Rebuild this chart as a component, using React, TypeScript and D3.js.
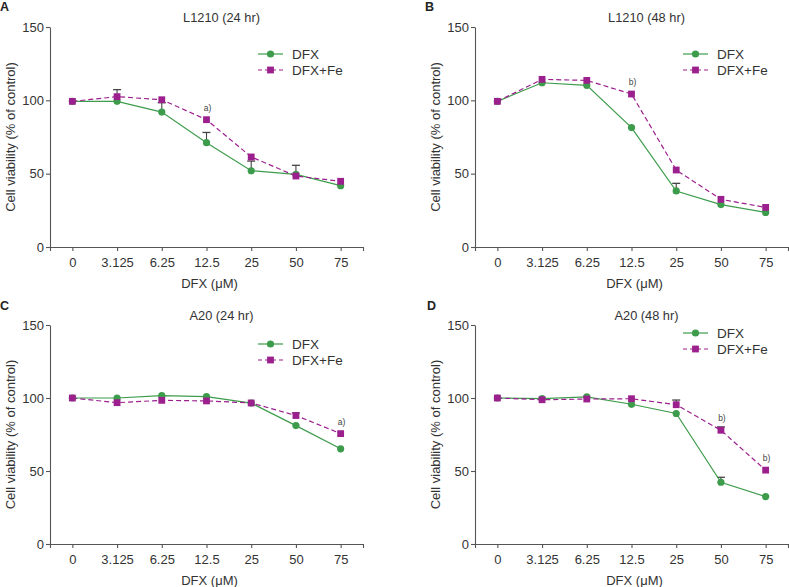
import React, { useEffect, useRef } from "react";
import * as d3 from "d3";

const categories = ["0", "3.125", "6.25", "12.5", "25", "50", "75"];
const yTicks = [0, 50, 100, 150];

const panelLetters = ["A", "B", "C", "D"];
const panelTitles = ["L1210 (24 hr)", "L1210 (48 hr)", "A20 (24 hr)", "A20 (48 hr)"];

const dfxA = [99.3, 99.3, 92, 71.1, 52, 49.5, 41.8];
const feA = [99.3, 102.5, 100.4, 86.8, 61.4, 48.4, 44.8];
const dfxErrA = [0, 0, 6.4, 7, 6.6, 6.2, 0];
const feErrA = [0, 4.8, 0, 0, 0, 0, 0];

const dfxB = [99.3, 112, 110.2, 81.4, 38.2, 28.9, 23.6];
const feB = [99.3, 114.3, 113.6, 104.3, 52.5, 32.5, 27];
const dfxErrB = [0, 0, 0, 0, 5.2, 0, 0];
const feErrB = [0, 0, 0, 0, 0, 0, 0];

const dfxC = [100, 100, 101.6, 101, 96.5, 81.1, 65.2];
const feC = [100, 96.8, 98.4, 98, 96.6, 88, 75.6];
const dfxErrC = [0, 0, 0, 0, 0, 0, 0];
const feErrC = [0, 0, 0, 0, 0, 1.8, 0];

const dfxD = [100, 99.6, 100.8, 95.7, 89.4, 42.3, 32.5];
const feD = [100, 98.8, 99.3, 99.5, 95.4, 77.9, 50.6];
const dfxErrD = [0, 0, 0, 0, 0, 3.4, 0];
const feErrD = [0, 0, 0, 0, 3.2, 2.3, 0];

const annotA = [{ i: 3, text: "a)" }];
const annotB = [{ i: 3, text: "b)" }];
const annotC = [{ i: 6, text: "a)" }];
const annotD = [{ i: 5, text: "b)" }, { i: 6, text: "b)" }];

const legendLabels = ["DFX", "DFX+Fe"];

const GREEN = "#3d9c4b";
const PURPLE = "#9c1f8e";
const AXIS = "#555";
const TEXT = "#333";
const FONT = "'Liberation Sans', Arial, Helvetica, sans-serif";

const panels = [
  { dfx: dfxA, fe: feA, dErr: dfxErrA, fErr: feErrA, annot: annotA, left: 50, right: 363, top: 27, bottom: 247, legendY: 54, letterX: 0, letterY: 11 },
  { dfx: dfxB, fe: feB, dErr: dfxErrB, fErr: feErrB, annot: annotB, left: 475, right: 788, top: 27, bottom: 247, legendY: 54, letterX: 425, letterY: 11 },
  { dfx: dfxC, fe: feC, dErr: dfxErrC, fErr: feErrC, annot: annotC, left: 50, right: 363, top: 325, bottom: 544, legendY: 344, letterX: 0, letterY: 310 },
  { dfx: dfxD, fe: feD, dErr: dfxErrD, fErr: feErrD, annot: annotD, left: 475, right: 788, top: 325, bottom: 544, legendY: 333, letterX: 427, letterY: 310 },
];

export default function App() {
  const ref = useRef<SVGSVGElement>(null);

  useEffect(() => {
    const svg = d3.select(ref.current);
    svg.selectAll("*").remove();

    panels.forEach((p, pi) => {
      const g = svg.append("g");
      const x = d3.scalePoint<string>().domain(categories).range([p.left, p.right]).padding(0.5);
      const y = d3.scaleLinear().domain([0, 150]).range([p.bottom, p.top]);

      const xa = g.append("g").attr("transform", `translate(0,${p.bottom})`)
        .call(d3.axisBottom(x).tickSize(4).tickSizeOuter(4));
      const ya = g.append("g").attr("transform", `translate(${p.left},0)`)
        .call(d3.axisLeft(y).tickValues(yTicks).tickSize(4).tickSizeOuter(0));
      [xa, ya].forEach((a) => {
        a.select(".domain").attr("stroke", AXIS).attr("stroke-width", 1.1);
        a.selectAll(".tick line").attr("stroke", AXIS).attr("stroke-width", 1.1);
        a.selectAll(".tick text").attr("fill", TEXT).attr("font-size", 13).attr("font-family", FONT);
      });
      xa.selectAll(".tick text").attr("dy", "1.05em").attr("y", 6);
      ya.selectAll(".tick text").attr("x", -6);

      const cx = (p.left + p.right) / 2 + 1;
      g.append("text").attr("x", cx + 14).attr("y", p.top - 5).attr("text-anchor", "middle")
        .attr("font-size", 12.8).attr("font-family", FONT).attr("fill", TEXT).text(panelTitles[pi]);
      g.append("text").attr("x", cx + 2).attr("y", p.bottom + 41).attr("text-anchor", "middle")
        .attr("font-size", 13).attr("font-family", FONT).attr("fill", TEXT).text("DFX (\u03bcM)");
      g.append("text")
        .attr("transform", `translate(${p.left - 35},${(p.top + p.bottom) / 2}) rotate(-90)`)
        .attr("text-anchor", "middle").attr("font-size", 13).attr("font-family", FONT).attr("fill", TEXT)
        .text("Cell viability (% of control)");
      g.append("text").attr("x", p.letterX).attr("y", p.letterY).attr("font-size", 12.5).attr("font-weight", "bold")
        .attr("font-family", FONT).attr("fill", "#222").text(panelLetters[pi]);

      const series = [
        { vals: p.dfx, err: p.dErr, color: GREEN, dash: null as string | null, shape: "circle" },
        { vals: p.fe, err: p.fErr, color: PURPLE, dash: "5,3", shape: "square" },
      ];

      series.forEach((s) => {
        s.vals.forEach((v, i) => {
          if (!s.err[i]) return;
          const xx = x(categories[i])!;
          const y0 = y(v), y1 = y(v + s.err[i]);
          g.append("line").attr("x1", xx).attr("x2", xx).attr("y1", y0).attr("y2", y1)
            .attr("stroke", "#444").attr("stroke-width", 1.1);
          g.append("line").attr("x1", xx - 4).attr("x2", xx + 4).attr("y1", y1).attr("y2", y1)
            .attr("stroke", "#444").attr("stroke-width", 1.3);
        });
      });

      const line = d3.line<number>().x((_, i) => x(categories[i])!).y((v) => y(v));
      series.forEach((s) => {
        const path = g.append("path").datum(s.vals).attr("d", line).attr("fill", "none")
          .attr("stroke", s.color).attr("stroke-width", 1.2);
        if (s.dash) path.attr("stroke-dasharray", s.dash);
      });
      series.forEach((s) => {
        s.vals.forEach((v, i) => {
          const xx = x(categories[i])!;
          if (s.shape === "circle") {
            g.append("circle").attr("cx", xx).attr("cy", y(v)).attr("r", 3.6).attr("fill", s.color);
          } else {
            g.append("rect").attr("x", xx - 3.4).attr("y", y(v) - 3.4).attr("width", 6.8).attr("height", 6.8)
              .attr("fill", s.color);
          }
        });
      });

      p.annot.forEach((a) => {
        const xx = x(categories[a.i])!;
        g.append("text").attr("x", xx + 1).attr("y", y(p.fe[a.i]) - 9).attr("text-anchor", "middle")
          .attr("font-size", 8.5).attr("font-family", FONT).attr("fill", "#444").text(a.text);
      });

      const lx0 = p.left + 208;
      series.forEach((s, k) => {
        const ly = p.legendY + k * 16;
        const l = g.append("line").attr("x1", lx0).attr("x2", lx0 + 25).attr("y1", ly).attr("y2", ly)
          .attr("stroke", s.color).attr("stroke-width", 1.2);
        if (s.dash) l.attr("stroke-dasharray", "4,3");
        if (s.shape === "circle") {
          g.append("circle").attr("cx", lx0 + 12.5).attr("cy", ly).attr("r", 3.6).attr("fill", s.color);
        } else {
          g.append("rect").attr("x", lx0 + 12.5 - 3.4).attr("y", ly - 3.4).attr("width", 6.8).attr("height", 6.8)
            .attr("fill", s.color);
        }
        g.append("text").attr("x", lx0 + 34).attr("y", ly).attr("dy", "0.35em").attr("font-size", 13.5)
          .attr("font-family", FONT).attr("fill", TEXT).text(legendLabels[k]);
      });
    });
  }, []);

  return (
    <svg ref={ref} width={789} height={587}
      style={{ position: "absolute", left: 0, top: 0, background: "#fff" }} />
  );
}
